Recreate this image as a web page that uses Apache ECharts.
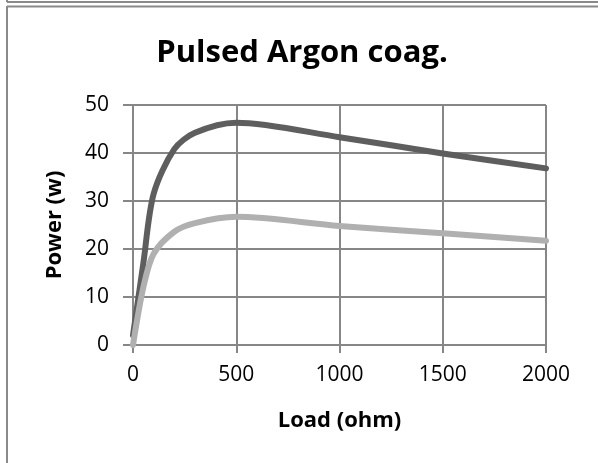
<!DOCTYPE html>
<html>
<head>
<meta charset="utf-8">
<script src="https://cdn.jsdelivr.net/npm/echarts@6/dist/echarts.min.js"></script>
<style>
  html, body { margin: 0; padding: 0; background: #fff; }
  #chart { width: 598px; height: 463px; }
</style>
</head>
<body>
<div id="chart"></div>
<script>
// Load resistance (ohm) at which power was measured
const loads = [0, 50, 100, 200, 300, 500, 1000, 1500, 2000];
// Output power (W) for the two settings
const powerHigh = [2, 17, 31.5, 40.8, 44.2, 46.3, 43.3, 39.9, 36.8];
const powerLow  = [0, 12, 19, 23.6, 25.4, 26.7, 24.8, 23.3, 21.7];
// Axis ticks
const xTicks = [0, 500, 1000, 1500, 2000];
const yTicks = [0, 10, 20, 30, 40, 50];

const FONT = 'Open Sans';
const GRID_COLOR = '#878787';

function pairs(xs, ys) { return xs.map((x, i) => [x, ys[i]]); }

const chart = echarts.init(document.getElementById('chart'), null, { renderer: 'canvas' });

chart.setOption({
  animation: false,
  backgroundColor: '#fff',
  title: {
    text: 'Pulsed Argon coag.',
    left: 297,
    textAlign: 'center',
    top: 33,
    textStyle: { fontFamily: FONT, fontWeight: 'bold', fontSize: 31, color: '#000' }
  },
  graphic: [
    // frame edges
    { type: 'line', shape: { x1: 7, y1: 2, x2: 598, y2: 2 }, style: { stroke: '#8a8a8a', lineWidth: 2 } },
    { type: 'line', shape: { x1: 7, y1: 0, x2: 7, y2: 2 }, style: { stroke: '#8a8a8a', lineWidth: 2 } },
    { type: 'line', shape: { x1: 7, y1: 6.5, x2: 598, y2: 6.5 }, style: { stroke: '#8a8a8a', lineWidth: 2 } },
    { type: 'line', shape: { x1: 7, y1: 6, x2: 7, y2: 463 }, style: { stroke: '#8a8a8a', lineWidth: 2 } }
  ],
  grid: { left: 133, right: 52, top: 105, bottom: 118, containLabel: false },
  xAxis: {
    type: 'value',
    min: xTicks[0],
    max: xTicks[xTicks.length - 1],
    interval: 500,
    name: 'Load (ohm)',
    nameLocation: 'middle',
    nameGap: 65,
    nameTextStyle: { fontFamily: FONT, fontWeight: 'bold', fontSize: 22, color: '#000' },
    axisLine: { show: true, lineStyle: { color: GRID_COLOR, width: 2 } },
    axisTick: { show: true, length: 8, lineStyle: { color: GRID_COLOR, width: 2 } },
    axisLabel: { margin: 20, fontFamily: FONT, fontSize: 21, color: '#000', formatter: v => String(v) },
    splitLine: { show: true, lineStyle: { color: GRID_COLOR, width: 2 } }
  },
  yAxis: {
    type: 'value',
    min: yTicks[0],
    max: yTicks[yTicks.length - 1],
    interval: 10,
    name: 'Power (w)',
    nameLocation: 'middle',
    nameRotate: 90,
    nameGap: 67,
    nameTextStyle: { fontFamily: FONT, fontWeight: 'bold', fontSize: 22, color: '#000' },
    axisLine: { show: true, lineStyle: { color: GRID_COLOR, width: 2 } },
    axisTick: { show: true, length: 10, lineStyle: { color: GRID_COLOR, width: 2 } },
    axisLabel: { margin: 24, fontFamily: FONT, fontSize: 21, color: '#000', formatter: v => String(v) },
    splitLine: { show: true, lineStyle: { color: GRID_COLOR, width: 2 } }
  },
  series: [
    {
      type: 'line',
      data: pairs(loads, powerHigh),
      smooth: 0.3,
      showSymbol: false,
      lineStyle: { color: '#5e5e5e', width: 6, cap: 'round', join: 'round' }
    },
    {
      type: 'line',
      data: pairs(loads, powerLow),
      smooth: 0.3,
      showSymbol: false,
      lineStyle: { color: '#b0b0b0', width: 6, cap: 'round', join: 'round' }
    }
  ]
});
</script>
</body>
</html>
